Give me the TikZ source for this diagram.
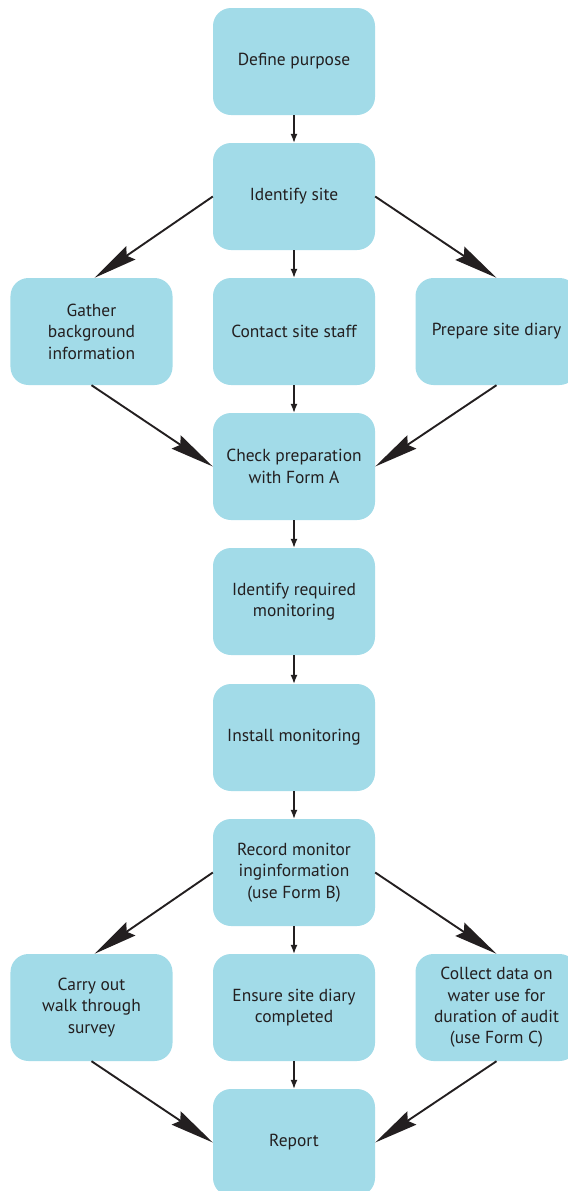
\documentclass[tikz,border=0pt]{standalone}
\usepackage{fontspec}
\setmainfont{PT Sans}
\usetikzlibrary{arrows.meta}
\definecolor{boxblue}{HTML}{A2DBE8}
\definecolor{inkgray}{HTML}{231F20}
\tikzset{
  stagebox/.style={rounded corners=18bp, fill=boxblue, minimum width=162bp, minimum height=107bp,
    align=center, text=inkgray, inner sep=4bp, font=\fontsize{17.5}{21.5}\selectfont},
  shortarrow/.style={draw=inkgray, line width=1.3bp, -{Latex[length=9bp,width=7bp]}},
  longarrow/.style={draw=inkgray, line width=1.9bp, -{Stealth[length=44bp,width=16bp,inset=5bp]}}
}
\begin{document}
\begin{tikzpicture}[x=1bp,y=-1bp]
  \useasboundingbox (0,0) rectangle (568,1191);
  \clip (0,0) rectangle (568,1191);

  % top part
  \node[stagebox] (define) at (294,61.5) {Define purpose};
  \node[stagebox] (identify) at (294,196.5) {Identify site};
  \node[stagebox] (gather) at (91.5,331.5) {Gather\\background\\information};
  \node[stagebox] (contact) at (294,331.5) {Contact site staff};
  \node[stagebox] (diary) at (496.5,331.5) {Prepare site diary};
  \node[stagebox] (check) at (294,466.5) {Check preparation\\with Form A};

  % middle
  \node[stagebox] (required) at (294,601.5) {Identify required\\monitoring};
  \node[stagebox] (install) at (294,737.5) {Install monitoring};
  \node[stagebox] (record) at (294,872.5) {Record monitor\\inginformation\\(use Form B)};

  % bottom part
  \node[stagebox] (walk) at (91.5,1007.5) {Carry out\\walk through\\survey};
  \node[stagebox] (ensure) at (294,1007.5) {Ensure site diary\\completed};
  \node[stagebox] (collect) at (496.5,1007.5) {Collect data on\\water use for\\duration of audit\\(use Form C)};
  \node[stagebox] (report) at (294,1142.5) {Report};

  \draw[shortarrow] (define) -- (identify);
  \draw[shortarrow] (identify) -- (contact);
  \draw[shortarrow] (contact) -- (check);
  \draw[shortarrow] (check) -- (required);
  \draw[shortarrow] (required) -- (install);
  \draw[shortarrow] (install) -- (record);
  \draw[shortarrow] (record) -- (ensure);
  \draw[shortarrow] (ensure) -- (report);

  \draw[longarrow] (identify.west) -- ([xshift=3bp]gather.north);
  \draw[longarrow] (identify.east) -- (diary.north);
  \draw[longarrow] (gather.south) -- (check.west);
  \draw[longarrow] (diary.south) -- (check.east);

  \draw[longarrow] (record.west) -- ([xshift=3bp]walk.north);
  \draw[longarrow] (record.east) -- (collect.north);
  \draw[longarrow] (walk.south) -- (report.west);
  \draw[longarrow] (collect.south) -- (report.east);
\end{tikzpicture}
\end{document}
